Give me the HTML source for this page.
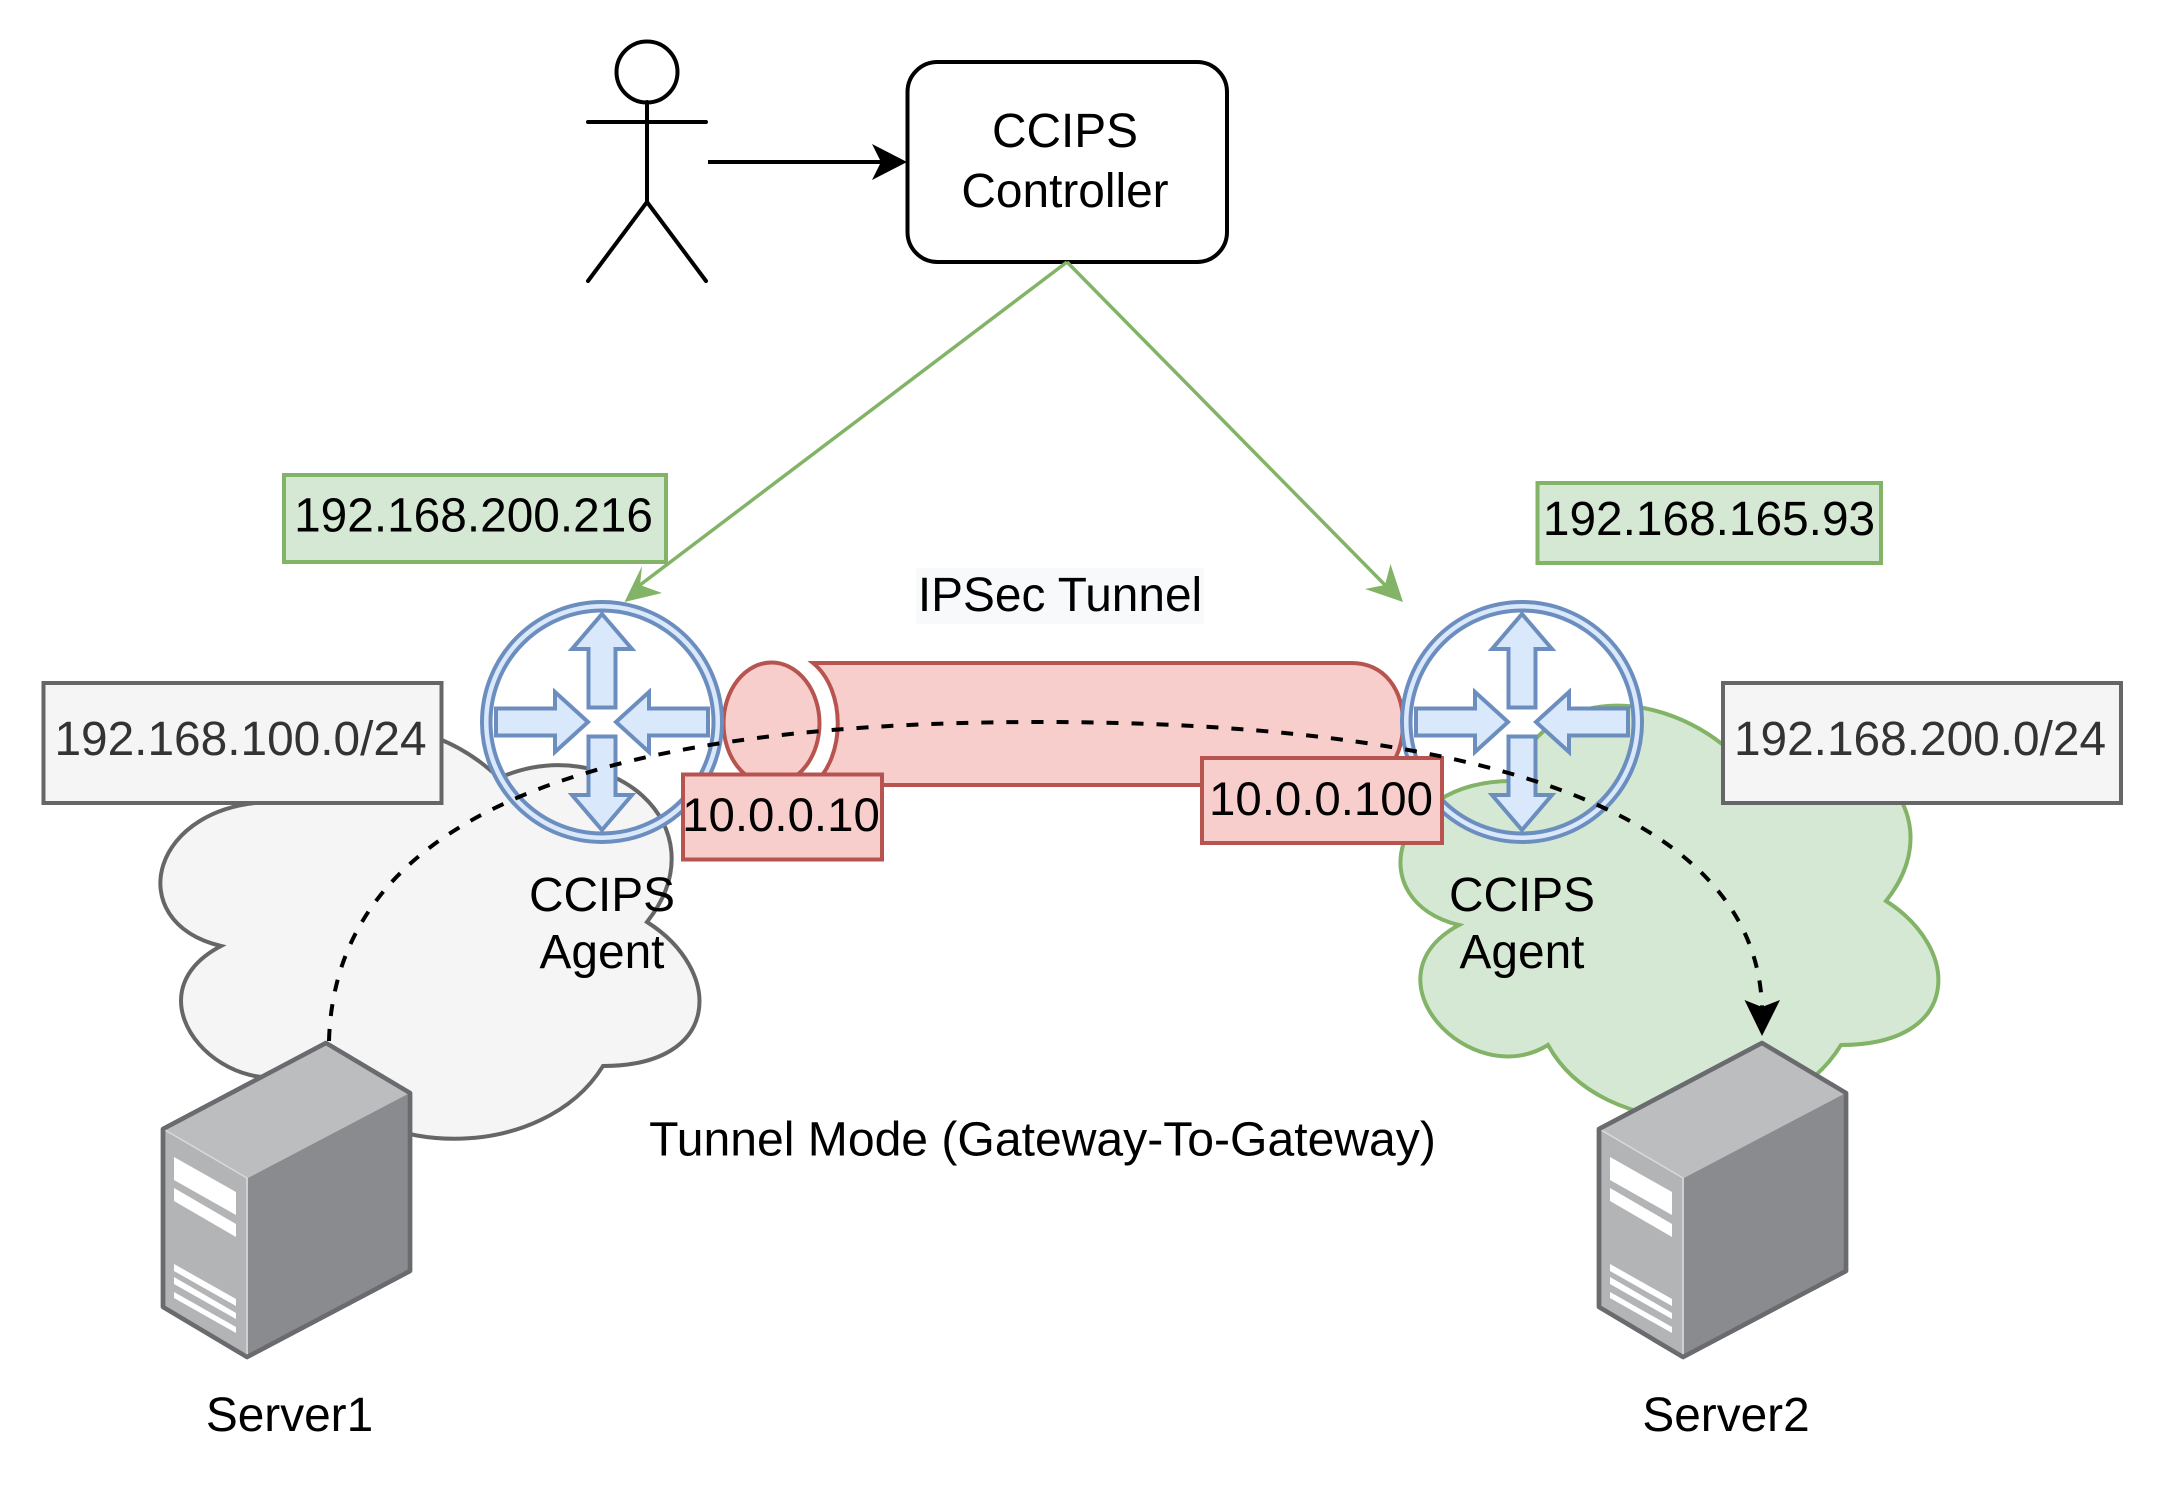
<!DOCTYPE html>
<html>
<head>
<meta charset="utf-8">
<style>
html,body{margin:0;padding:0;background:#fff;}
svg{display:block;}
text{font-family:"Liberation Sans",sans-serif;font-size:47.800px;fill:#000;text-anchor:middle;}
</style>
</head>
<body>
<svg xmlns="http://www.w3.org/2000/svg" width="2164" height="1488" viewBox="0 0 2164 1488">
<defs>
<g id="router">
  <path d="M-120 0A120 120 0 1 0 120 0A120 120 0 1 0 -120 0ZM-111.500 0A111.500 111.500 0 1 1 111.500 0A111.500 111.500 0 1 1 -111.500 0Z" fill="#dae8fc" fill-rule="evenodd"/>
  <circle r="120" fill="none" stroke="#6c8ebf" stroke-width="4"/>
  <circle r="111.500" fill="none" stroke="#6c8ebf" stroke-width="4"/>
  <g fill="#dae8fc" stroke="#6c8ebf" stroke-width="4" stroke-linejoin="miter">
    <path d="M0 -108L30 -73H13.500V-14.500H-13.500V-73H-30Z"/>
    <path d="M0 108L30 73H13.500V14.500H-13.500V73H-30Z"/>
    <path d="M-14 0L-47 -30V-13.500H-106V13.500H-47V30Z"/>
    <path d="M14 0L47 -30V-13.500H106V13.500H47V30Z"/>
  </g>
</g>
<g id="server">
  <path d="M326 1043L410 1093V1271L247 1357L163 1307V1129Z" fill="#b3b4b6" stroke="#6a6b6f" stroke-width="4.500" stroke-linejoin="round"/>
  <path d="M326 1045L408 1094L248 1178L165 1130Z" fill="#bcbdbf"/>
  <path d="M408 1094V1270L248 1354V1178Z" fill="#8a8b8e"/>
  <path d="M165 1130L247 1178V1355" fill="none" stroke="#d8d9da" stroke-width="1.500"/>
  <g fill="#fff">
    <path d="M174 1157L236 1192V1215L174 1180Z"/>
    <path d="M174 1188L236 1224V1237L174 1201Z"/>
    <path d="M174 1264L236 1299V1306L174 1271Z"/>
    <path d="M174 1277L236 1313V1319L174 1284Z"/>
    <path d="M174 1292L236 1327V1333L174 1298Z"/>
  </g>
  <path d="M326 1043L410 1093V1271L247 1357L163 1307V1129Z" fill="none" stroke="#6a6b6f" stroke-width="4.500" stroke-linejoin="round"/>
</g>
</defs>

<rect width="2164" height="1488" fill="#fff"/>

<!-- clouds -->
<path d="M275 802C150 802 120 922 221 946C120 999 233 1114 311 1066C364 1163 543 1163 603 1066C723 1066 723 970 647 922C723 826 609 730 499 778C424 706 305 706 275 802Z" fill="#f5f5f5" stroke="#666" stroke-width="4"/>
<path d="M1512 781C1391 781 1361 901 1459 925C1361 978 1471 1093 1548 1045C1602 1143 1781 1143 1841 1045C1962 1045 1962 949 1886 901C1962 805 1847 709 1737 757C1662 685 1542 685 1512 781Z" fill="#d5e8d4" stroke="#82b366" stroke-width="4"/>

<!-- actor -->
<g fill="none" stroke="#000" stroke-width="4" stroke-linecap="round">
  <ellipse cx="648" cy="72" rx="30.500" ry="30.500" fill="#fff" transform="translate(-1,0)"/>
  <path d="M647 102V202M588 122H706M588 281L647 202L706 281"/>
</g>
<path d="M708 162H886" stroke="#000" stroke-width="4" fill="none"/>
<path d="M907 162L872 144L881 162L872 180Z" fill="#000"/>

<!-- controller -->
<rect x="907.500" y="62" width="319.500" height="200" rx="30" ry="30" fill="#fff" stroke="#000" stroke-width="4"/>
<text x="1065" y="147">CCIPS</text>
<text x="1065" y="207">Controller</text>

<!-- green connectors -->
<path d="M1067 262L640 585M1067 262L1385 585" stroke="#82b366" stroke-width="3.500" fill="none"/>
<path d="M624.500 602L642 566L640 585L662 593Z" fill="#82b366"/>
<path d="M1403 602L1390.500 564L1385 585L1365 589Z" fill="#82b366"/>

<!-- green labels -->
<rect x="284" y="475" width="382" height="87" fill="#d5e8d4" stroke="#82b366" stroke-width="4"/>
<text x="473.500" y="531.500">192.168.200.216</text>
<rect x="1537.500" y="483" width="343.500" height="80" fill="#d5e8d4" stroke="#82b366" stroke-width="4"/>
<text x="1709" y="535">192.168.165.93</text>

<!-- IPSec label -->
<rect x="916" y="568" width="288" height="56" fill="#f8f9fa"/>
<text x="1060" y="611">IPSec Tunnel</text>

<!-- tunnel cylinder -->
<path d="M813 663H1351C1385 663 1403 690 1403 723C1403 757 1385 785 1351 785H813C846 757 846 690 813 663Z" fill="#f8cecc" stroke="#b85450" stroke-width="4"/>
<ellipse cx="771.500" cy="723.500" rx="48" ry="61" fill="#f8cecc" stroke="#b85450" stroke-width="4"/>

<!-- routers -->
<use href="#router" x="602" y="722"/>
<use href="#router" x="1522" y="722"/>

<!-- red labels -->
<rect x="683" y="774.500" width="199" height="85" fill="#f8cecc" stroke="#b85450" stroke-width="4"/>
<text x="781" y="831" style="font-size:47.400px">10.0.0.10</text>
<rect x="1202" y="758" width="240" height="85" fill="#f8cecc" stroke="#b85450" stroke-width="4"/>
<text x="1321" y="815" style="font-size:47.400px">10.0.0.100</text>

<!-- gray labels -->
<rect x="43.500" y="683" width="398" height="120" fill="#f5f5f5" stroke="#666" stroke-width="4"/>
<text x="240.500" y="755" style="fill:#333">192.168.100.0/24</text>
<rect x="1731" y="683" width="398" height="120" fill="#f5f5f5" stroke="#666" stroke-width="4" transform="translate(-8,0)"/>
<text x="1920" y="755" style="fill:#333">192.168.200.0/24</text>

<!-- agent text -->
<text x="602" y="911">CCIPS</text>
<text x="602" y="968">Agent</text>
<text x="1522" y="911">CCIPS</text>
<text x="1522" y="968">Agent</text>

<!-- servers -->
<use href="#server"/>
<use href="#server" x="1436"/>

<!-- dashed curve -->
<path d="M329 1041C335 830 560 722 1040 722C1450 722 1755 800 1762 1007" fill="none" stroke="#000" stroke-width="4" stroke-dasharray="12 13"/>
<path d="M1762 1036L1744.500 1000L1762 1007L1780 1000Z" fill="#000"/>

<!-- captions -->
<text x="1042.500" y="1155.500" style="font-size:48.100px">Tunnel Mode (Gateway-To-Gateway)</text>
<text x="289.500" y="1431">Server1</text>
<text x="1726" y="1431">Server2</text>
</svg>
</body>
</html>
